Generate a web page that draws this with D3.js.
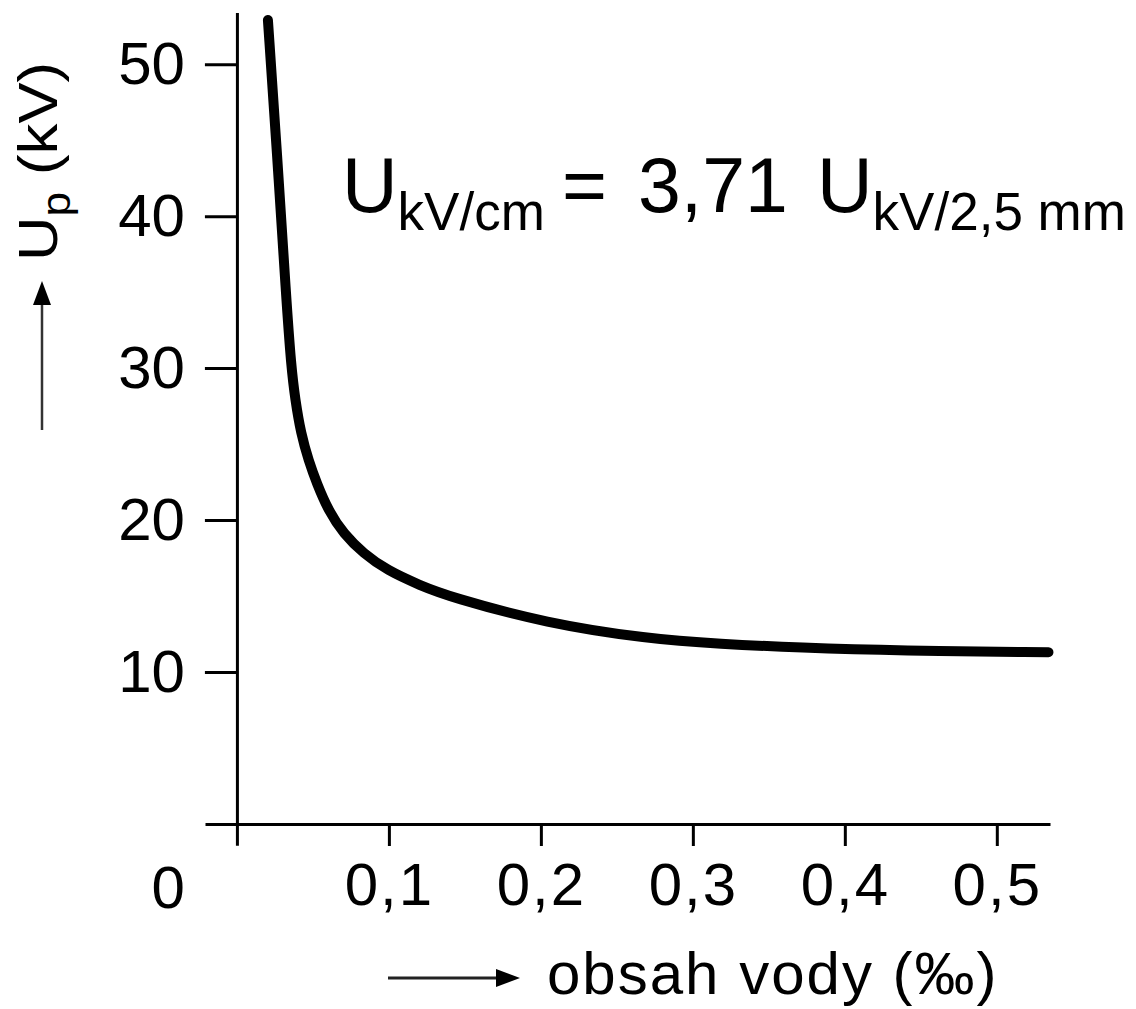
<!DOCTYPE html>
<html>
<head>
<meta charset="utf-8">
<script src="https://cdn.jsdelivr.net/npm/d3@7"></script>
<style>
  html, body { margin: 0; padding: 0; background: #fff; }
  svg text { font-family: "Liberation Sans", Arial, Helvetica, sans-serif; fill: #000; }
</style>
</head>
<body>
<svg id="chart" width="1136" height="1009"></svg>
<script>
// curve: water content (per mille) vs breakdown voltage (kV)
var waterContent = [0.0204, 0.0263, 0.0325, 0.0357, 0.0384, 0.0421, 0.0472, 0.0526, 0.0603, 0.0702, 0.0833, 0.0987, 0.1206, 0.140, 0.204, 0.270, 0.318, 0.370, 0.436, 0.534]
var voltage =      [52.9,   44.3,   34.5,   30.1,   27.9,   25.7,   23.9,   22.4,   20.6,   19.1,   17.8,   16.7,   15.7,   14.95, 13.2,  12.2,  11.85, 11.6,  11.4,  11.3]

var xTicks =      [0.1, 0.2, 0.3, 0.4, 0.5]
var xTickLabels = ['0,1', '0,2', '0,3', '0,4', '0,5']
var yTicks =      [10, 20, 30, 40, 50]
var yTickLabels = ['10', '20', '30', '40', '50']

var svg = d3.select('#chart')

// axes cross at (237, 824); 0.1 per mille = 152px, 10 kV = 152px
var x = d3.scaleLinear().domain([-0.021, 0.535]).range([205, 1050])
var y = d3.scaleLinear().domain([-1.4, 53.4]).range([845.3, 12.5])

var xAxis = d3.axisBottom(x)
    .tickValues(xTicks)
    .tickFormat((d, i) => xTickLabels[i])
    .tickSize(22)
    .tickSizeOuter(0)
    .tickPadding(16)

var yAxis = d3.axisLeft(y)
    .tickValues(yTicks)
    .tickFormat((d, i) => yTickLabels[i])
    .tickSize(32)
    .tickSizeOuter(0)
    .tickPadding(20)

var gx = svg.append('g')
    .attr('transform', `translate(0,${y(0)})`)
    .call(xAxis)
var gy = svg.append('g')
    .attr('transform', `translate(${x(0)},0)`)
    .call(yAxis)

svg.selectAll('.domain, .tick line')
    .attr('stroke', '#000')
    .attr('stroke-width', 3)
svg.selectAll('.tick text')
    .attr('font-size', 60)
    .attr('font-family', '"Liberation Sans", Arial, sans-serif')
    .attr('fill', '#000')
gx.selectAll('.tick text').attr('letter-spacing', 2)

// origin label sits in the y-label column, on the x-label row
svg.append('text')
    .attr('x', x(0) - 52)
    .attr('y', y(0) + 84)
    .attr('text-anchor', 'end')
    .attr('font-size', 60)
    .text('0')

// the curve
var points = waterContent.map((w, i) => [w, voltage[i]])
var line = d3.line()
    .x(d => x(d[0]))
    .y(d => y(d[1]))
    .curve(d3.curveBasis)

svg.append('path')
    .datum(points)
    .attr('d', line)
    .attr('fill', 'none')
    .attr('stroke', '#000')
    .attr('stroke-width', 10)
    .attr('stroke-linecap', 'round')
    .attr('stroke-linejoin', 'round')

// formula
var formula = svg.append('text')
    .attr('x', 342)
    .attr('y', 212)
    .attr('font-size', 77)
formula.append('tspan').text('U')
formula.append('tspan').attr('font-size', 53).attr('dy', 18).text('kV/cm')
formula.append('tspan').attr('x', 562).attr('dy', -18).text('=')
formula.append('tspan').attr('x', 638).text('3,71')
formula.append('tspan').attr('x', 817).text('U')
formula.append('tspan').attr('font-size', 53).attr('dy', 18).text('kV/2,5 mm')

// x axis title with arrow
svg.append('line')
    .attr('x1', 388).attr('y1', 978)
    .attr('x2', 500).attr('y2', 978)
    .attr('stroke', '#222')
    .attr('stroke-width', 3)
svg.append('path')
    .attr('d', 'M520,978 L496,969 L496,987 Z')
    .attr('fill', '#000')
svg.append('text')
    .attr('x', 547)
    .attr('y', 994)
    .attr('font-size', 60)
    .attr('letter-spacing', 2)
    .text('obsah vody (‰)')

// y axis title with arrow
svg.append('line')
    .attr('x1', 42).attr('y1', 430)
    .attr('x2', 42).attr('y2', 300)
    .attr('stroke', '#333')
    .attr('stroke-width', 2.5)
svg.append('path')
    .attr('d', 'M42,281 L33,305 L51,305 Z')
    .attr('fill', '#000')
var ytitle = svg.append('text')
    .attr('transform', 'translate(57,261) rotate(-90) scale(1.1,1)')
    .attr('font-size', 56)
ytitle.append('tspan').text('U')
ytitle.append('tspan').attr('font-size', 40).attr('dy', 13).text('p')
ytitle.append('tspan').attr('dy', -13).text(' (kV)')
</script>
</body>
</html>
